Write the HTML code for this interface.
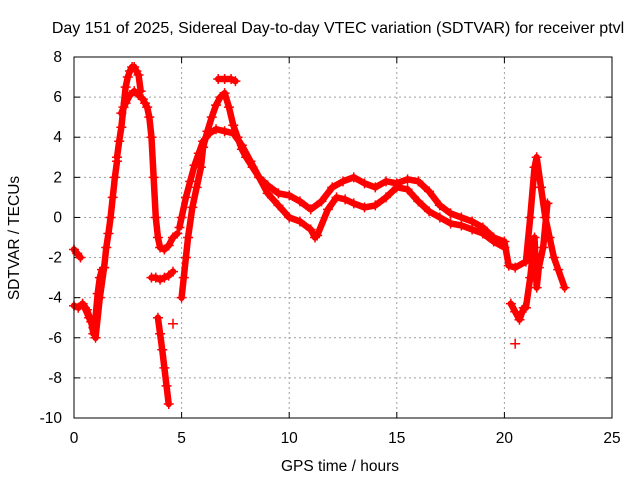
<!DOCTYPE html>
<html><head><meta charset="utf-8">
<style>
body{margin:0;background:#fff;}
svg{display:block;font-family:"Liberation Sans",sans-serif;}
</style></head>
<body>
<svg id="chart" width="640" height="480">
<rect width="640" height="480" fill="#fff"/>
<text x="338" y="33" font-size="16" text-anchor="middle">Day 151 of 2025, Sidereal Day-to-day VTEC variation (SDTVAR) for receiver ptvl</text>
<text x="340" y="471" font-size="15.5" text-anchor="middle">GPS time / hours</text>
<text transform="translate(19,238) rotate(-90)" font-size="15.5" text-anchor="middle">SDTVAR / TECUs</text>
<g id="grid"></g><g id="marks"></g>
<rect x="74" y="57" width="538" height="361" fill="none" stroke="#000"/>
</svg>
<script>
const xTicks=[0,5,10,15,20,25];
const yTicks=[-10,-8,-6,-4,-2,0,2,4,6,8];
const segT=[
[0,0.15,0.3],
[0,0.2,0.4,0.6,0.8,0.9,1.0,1.1,1.2,1.3,1.4],
[0.5,0.7,0.9,1.0,1.2,1.4,1.5,1.6,1.7,1.8,1.9,2.0],
[2.0,2.1,2.2,2.3,2.4,2.5,2.6,2.7,2.8,2.9,3.0,3.1],
[2.2,2.4,2.6,2.8,3.0,3.2,3.3,3.4,3.5,3.6,3.7,3.8,3.9,4.0,4.2,4.4,4.6,4.8],
[3.6,3.8,4.0,4.2,4.4,4.6],
[3.9,4.0,4.1,4.2,4.3,4.4],
[4.6],
[5.0,5.1,5.2,5.3,5.5,5.7,5.9,6.0,6.2,6.4,6.6,6.8,7.0,7.2,7.4,7.6,7.8,8.0,8.3,8.6,9.0,9.5,10,10.5,11,11.5,12,12.5,13,13.5,14,14.5,15,15.5,16,16.5,17,17.5,18,18.5,19,19.5,20,20.2,20.5,21,21.2,21.4,21.5,21.7,21.9,22.1,22.3,22.5,22.8],
[4.9,5.0,5.2,5.4,5.6,5.8,6.0,6.3,6.6,7.0,7.4,7.8,8.2,8.6,9.0,9.5,10,10.5,11,11.2],
[6.7,7.0,7.3,7.5],
[11.3,11.8,12.2,12.6,13,13.5,14,14.5,15,15.5,16,16.5,17,17.5,18,18.5,19,19.5,20],
[20.3,20.5,20.7,20.9],
[20.5],
[21.0,21.2,21.3,21.4,21.5,21.6,21.8,22.0]
];
const segV=[
[-1.6,-1.8,-2.0],
[-4.4,-4.5,-4.3,-4.6,-5.2,-5.8,-5.0,-3.8,-3.0,-2.6,-2.5],
[-4.5,-5.0,-5.5,-6.0,-4.0,-2.5,-1.5,-0.8,0.0,1.0,2.0,2.8],
[3.0,3.8,4.5,5.5,6.5,7.0,7.3,7.5,7.5,7.3,7.1,6.3],
[5.2,5.7,6.1,6.3,6.1,5.9,5.7,5.5,5.0,4.0,2.0,0.0,-1.0,-1.5,-1.6,-1.4,-1.0,-0.8],
[-3.0,-3.0,-3.1,-3.0,-2.9,-2.7],
[-5.0,-5.8,-6.6,-7.5,-8.4,-9.3],
[-5.3],
[-4.0,-3.0,-2.0,-1.0,0.5,1.5,2.5,3.5,4.3,5.0,5.6,6.0,6.2,5.5,4.6,4.0,3.4,3.0,2.5,2.0,1.6,1.2,1.1,0.8,0.4,0.8,1.5,1.8,2.0,1.7,1.5,1.8,1.7,1.9,1.8,1.3,0.6,0.2,0.0,-0.2,-0.5,-1.0,-1.2,-2.4,-2.5,-2.2,0.0,2.5,3.0,1.5,0.0,-1.0,-2.0,-2.6,-3.5],
[-0.5,0.0,1.0,1.8,2.6,3.2,3.8,4.2,4.4,4.3,4.2,3.6,2.8,2.0,1.2,0.6,0.0,-0.2,-0.6,-1.0],
[6.9,6.9,6.9,6.8],
[-0.9,0.4,1.0,0.9,0.7,0.5,0.6,1.0,1.5,1.4,0.8,0.3,0.0,-0.3,-0.4,-0.6,-0.8,-1.2,-1.5],
[-4.3,-4.7,-5.1,-4.5],
[-6.3],
[-4.5,-3.0,-2.0,-1.0,-3.5,-2.5,-1.5,0.7]
];
const X0=74,X1=612,Y0=418,Y1=57;
const xs=t=>X0+(t-0)/(25-0)*(X1-X0);
const ys=v=>Y0-(v+10)/18*(Y0-Y1);
const NS='http://www.w3.org/2000/svg';
const grid=document.getElementById('grid'),marks=document.getElementById('marks');
function mk(tag,attrs,parent){const e=document.createElementNS(NS,tag);for(const k in attrs)e.setAttribute(k,attrs[k]);parent.appendChild(e);return e;}
xTicks.forEach(t=>{
  const x=xs(t);
  if(t>0&&t<25){const l=mk('line',{x1:x,x2:x,y1:Y1,y2:Y0,stroke:'#a0a0a0','stroke-dasharray':'2,3','stroke-width':1},grid);
  
  }
  mk('line',{x1:x,x2:x,y1:Y0,y2:Y0-6,stroke:'#000'},grid);
  mk('line',{x1:x,x2:x,y1:Y1,y2:Y1+6,stroke:'#000'},grid);
  const tx=mk('text',{x:x,y:Y0+25,'font-size':15.5,'text-anchor':'middle'},grid);
  tx.textContent=t;
  
  
});
yTicks.forEach(v=>{
  const y=ys(v);
  if(v>-10&&v<8){const l=mk('line',{x1:X0,x2:X1,y1:y,y2:y,stroke:'#a0a0a0','stroke-dasharray':'2,3','stroke-width':1},grid);
  
  }
  mk('line',{x1:X0,x2:X0+6,y1:y,y2:y,stroke:'#000'},grid);
  mk('line',{x1:X1,x2:X1-6,y1:y,y2:y,stroke:'#000'},grid);
  const tx=mk('text',{x:X0-12,y:y+5,'font-size':15.5,'text-anchor':'end'},grid);
  tx.textContent=v;
  
  
});
segT.forEach((ts,i)=>{
  const vs=segV[i];
  const g=mk('g',{},marks);
  
  
  if(ts.length>1){
    const pts=ts.map((t,j)=>xs(t)+','+ys(vs[j])).join(' ');
    mk('polyline',{points:pts,fill:'none',stroke:'#f00','stroke-width':6.5,'stroke-linejoin':'round','stroke-linecap':'round'},g);
  }
  ts.forEach((t,j)=>{
    const x=xs(t),y=ys(vs[j]);
    const p=mk('path',{d:`M${x-5},${y}h10M${x},${y-5}v10`,stroke:'#f00','stroke-width':1.5},g);
    
    
  });
});
</script>
</body></html>
